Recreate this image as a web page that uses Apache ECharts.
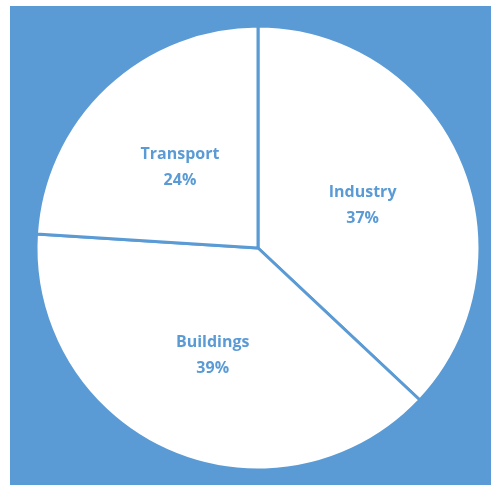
<!DOCTYPE html>
<html>
<head>
<meta charset="utf-8">
<style>
  html, body { margin: 0; padding: 0; background: #ffffff; }
  #chart { width: 491px; height: 485px; }
</style>
<script src="https://cdn.jsdelivr.net/npm/echarts@6/dist/echarts.min.js"></script>
</head>
<body>
<div id="chart"></div>
<script>
// Energy use by sector (share, %)
const sectors = ['Industry', 'Buildings', 'Transport'];
const shares = [37, 39, 24];

const blue = '#5B9BD5';

const chart = echarts.init(document.getElementById('chart'), null, { renderer: 'canvas' });

chart.setOption({
  backgroundColor: '#ffffff',
  animation: false,
  graphic: [{
    type: 'rect',
    z: -10,
    silent: true,
    shape: { x: 10, y: 6, width: 481, height: 479 },
    style: { fill: blue }
  }],
  series: [{
    type: 'pie',
    center: [258, 248],
    radius: 222,
    startAngle: 90,
    clockwise: true,
    avoidLabelOverlap: false,
    itemStyle: { color: '#ffffff', borderColor: blue, borderWidth: 3 },
    label: {
      show: true,
      position: 'inside',
      formatter: '{b}\n{d}%',
      color: blue,
      fontFamily: 'Open Sans',
      fontWeight: 'bold',
      fontSize: 16,
      lineHeight: 26,
      offset: [0, 3]
    },
    labelLine: { show: false },
    emphasis: { disabled: true },
    data: sectors.map((name, i) => ({ name: name, value: shares[i] }))
  }]
});
</script>
</body>
</html>
